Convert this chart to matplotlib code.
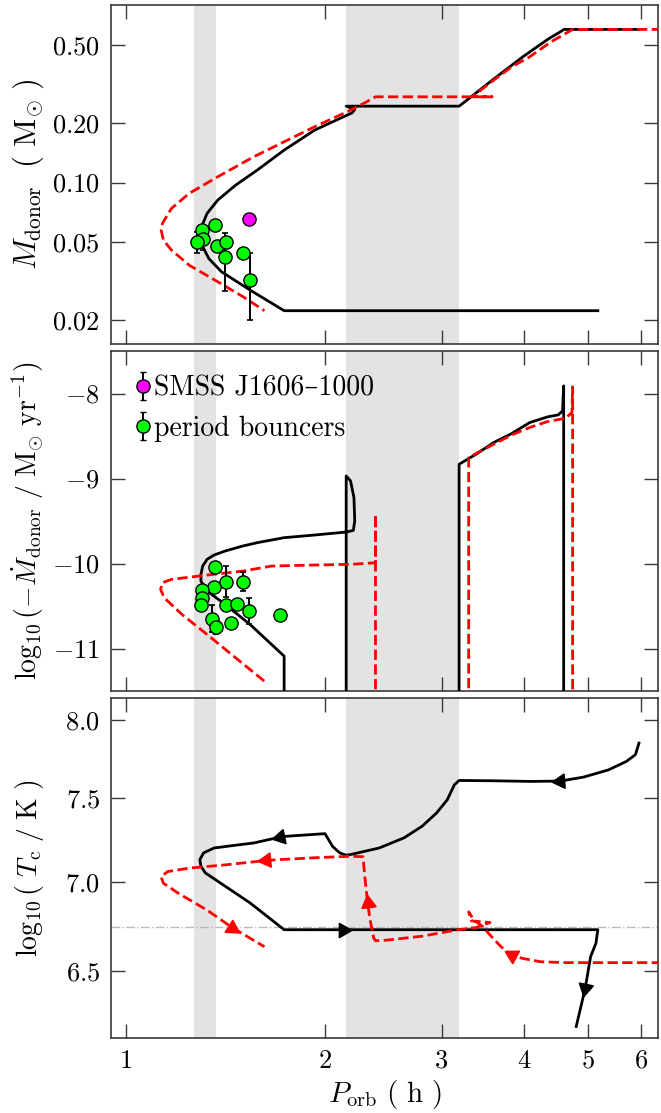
import numpy as np
import matplotlib.pyplot as plt
from matplotlib.ticker import FixedLocator, FixedFormatter, NullLocator

plt.rcParams['mathtext.fontset'] = 'cm'
plt.rcParams['font.family'] = ['cmr10', 'DejaVu Serif']
plt.rcParams['axes.unicode_minus'] = False
plt.rcParams['axes.formatter.use_mathtext'] = True

nan = np.nan

# shaded regions (period minimum spike, period gap)
spike_band = (1.268, 1.367)
gap_band = (2.15, 3.185)
tc_ref_line = 6.74

# --- donor mass tracks ---
black_mass_P = [5.96, 4.59, 4.56, 4.34, 3.98, 3.60, 3.19, 2.153, 2.218, 2.199, 1.929, 1.735,
                1.580, 1.466, 1.377, 1.327, 1.302, 1.299, 1.307, 1.335, 1.395, 1.541, 1.735, 5.167]
black_mass_M = [0.601, 0.601, 0.591, 0.535, 0.436, 0.337, 0.2447, 0.2447, 0.2355, 0.2265, 0.1848,
                0.1462, 0.1157, 0.0971, 0.0814, 0.0697, 0.0596, 0.0530, 0.0472, 0.0411, 0.0352,
                0.0284, 0.0223, 0.0223]
red_mass_P = [6.6, 4.733, 4.392, 4.076, 3.83, 3.597, 3.338, 3.575, 2.384, 2.312, 2.186, 1.929,
              1.735, 1.561, 1.377, 1.247, 1.172, 1.136, 1.131, 1.140, 1.172, 1.247, 1.377, 1.503, 1.620]
red_mass_M = [0.601, 0.601, 0.520, 0.436, 0.388, 0.332, 0.273, 0.273, 0.273, 0.2576, 0.2335,
              0.1922, 0.1612, 0.1353, 0.1070, 0.0881, 0.0738, 0.0620, 0.0573, 0.0510, 0.0454,
              0.0380, 0.0313, 0.0263, 0.0223]

# observed systems, top panel
bouncer_mass_P = [1.302, 1.307, 1.280, 1.364, 1.372, 1.416, 1.413, 1.505, 1.541]
bouncer_mass_M = [0.0573, 0.0514, 0.0500, 0.0608, 0.0475, 0.0500, 0.0419, 0.0437, 0.0319]
bouncer_mass_err = [0, 0.006, 0.006, 0, 0, 0, 0.0137, 0, 0.012]
smss_P = [1.536]
smss_M = [0.0650]

# --- mass transfer rate tracks ---
black_mdot_P = [4.588, 4.588, 4.571, 4.504, 4.338, 4.076, 3.83, 3.597, 3.381, 3.189, 3.189, nan,
                2.153, 2.153, 2.186, 2.212, 2.218, 2.207, 2.158, 1.929, 1.735, 1.580, 1.503,
                1.413, 1.360, 1.327, 1.307, 1.299, 1.299, 1.327, 1.413, 1.541, 1.735, 1.735]
black_mdot = [-12, -7.910, -8.204, -8.251, -8.275, -8.342, -8.471, -8.577, -8.715, -8.832, -12, nan,
              -12, -8.970, -9.029, -9.225, -9.500, -9.610, -9.629, -9.665, -9.696, -9.755, -9.794,
              -9.853, -9.900, -9.951, -10.030, -10.128, -10.207, -10.324, -10.481, -10.717, -11.090, -12]
red_mdot_P = [4.733, 4.733, 4.722, 4.617, 4.338, 4.076, 3.83, 3.597, 3.381, 3.297, 3.297, nan,
              2.384, 2.384, 2.384, 2.186, 1.929, 1.661, 1.503, 1.327, 1.172, 1.136, 1.129, 1.143,
              1.216, 1.327, 1.466, 1.620]
red_mdot = [-12, -7.921, -8.224, -8.291, -8.330, -8.400, -8.487, -8.597, -8.707, -8.754, -12, nan,
            -12, -9.421, -9.991, -10.010, -10.018, -10.030, -10.089, -10.136, -10.187, -10.226,
            -10.305, -10.403, -10.599, -10.835, -11.110, -11.385]

bouncer_mdot_P = [1.364, 1.416, 1.505, 1.361, 1.302, 1.302, 1.300, 1.416, 1.474, 1.537, 1.352,
                  1.369, 1.440, 1.713]
bouncer_mdot = [-10.038, -10.214, -10.214, -10.278, -10.313, -10.403, -10.490, -10.490, -10.473,
                -10.561, -10.650, -10.744, -10.697, -10.611]
bouncer_mdot_err = [0, 0.18, 0.11, 0, 0, 0, 0, 0, 0, 0.15, 0.16, 0.09, 0, 0]

# --- core temperature tracks ---
black_tc_P = [5.962, 5.888, 5.706, 5.362, 4.914, 4.53, 4.076, 3.597, 3.189, 3.137, 3.060, 2.947,
              2.804, 2.634, 2.415, 2.186, 2.153, 2.105, 2.053, 2.0, 1.746, 1.713, 1.561, 1.448,
              1.360, 1.311, 1.294, 1.299, 1.319, 1.413, 1.541, 1.735, 2.132, 5.167, 5.133, 5.039,
              4.945, 4.793]
black_tc = [7.851, 7.776, 7.733, 7.679, 7.633, 7.608, 7.606, 7.610, 7.612, 7.585, 7.491, 7.409,
            7.329, 7.259, 7.198, 7.159, 7.155, 7.169, 7.208, 7.284, 7.268, 7.264, 7.228, 7.212,
            7.198, 7.169, 7.129, 7.090, 7.051, 6.974, 6.878, 6.727, 6.727, 6.727, 6.652, 6.579,
            6.409, 6.209]
black_arrows = [5, 21, 32, 36]
red_tc_P = [6.6, 4.617, 4.231, 3.976, 3.83, 3.689, 3.552, 3.466, 3.360, 3.297, 3.330, 3.552,
            3.381, 3.177, 2.804, 2.475, 2.384, 2.370, 2.340, 2.320, 2.297, 2.283, 2.186, 1.929,
            1.703, 1.630, 1.413, 1.247, 1.157, 1.131, 1.140, 1.201, 1.327, 1.448, 1.620]
red_tc = [6.546, 6.546, 6.551, 6.569, 6.587, 6.633, 6.697, 6.743, 6.780, 6.827, 6.776, 6.767,
          6.739, 6.727, 6.691, 6.669, 6.666, 6.680, 6.780, 6.878, 7.028, 7.146, 7.149, 7.140,
          7.129, 7.124, 7.098, 7.079, 7.059, 7.028, 6.991, 6.933, 6.837, 6.739, 6.633]
red_arrows = [4, 19, 25, 33]

x_ticks = [1, 2, 3, 4, 5, 6]
mass_ticks = [0.02, 0.05, 0.10, 0.20, 0.50]
mdot_ticks = [-11, -10, -9, -8]
tc_ticks = [6.5, 7.0, 7.5, 8.0]

SPINE = '#3a3a3a'
GREEN = '#00ff00'
MAGENTA = '#ff00ff'

fig = plt.figure(figsize=(6.61, 11.13), dpi=100)
left, width = 111 / 661, 547 / 661
ax1 = fig.add_axes([left, 1 - 344 / 1113, width, 339 / 1113])
ax2 = fig.add_axes([left, 1 - 691 / 1113, width, 340 / 1113])
ax3 = fig.add_axes([left, 1 - 1038 / 1113, width, 340 / 1113])

for ax in (ax1, ax2, ax3):
    ax.set_xscale('log')
    ax.set_xlim(0.95, 6.37)
    ax.axvspan(*spike_band, color='#e3e3e3', lw=0, zorder=0)
    ax.axvspan(*gap_band, color='#e3e3e3', lw=0, zorder=0)
    ax.xaxis.set_major_locator(FixedLocator(x_ticks))
    ax.xaxis.set_major_formatter(FixedFormatter([f'${t}$' for t in x_ticks]))
    ax.xaxis.set_minor_locator(NullLocator())
    ax.tick_params(which='both', direction='in', top=True, right=True, length=10,
                   width=1, color=SPINE, labelsize=19, pad=8)
    for s in ax.spines.values():
        s.set_color(SPINE)
        s.set_linewidth(1.2)

lw = 2.0
# top panel
ax1.plot(black_mass_P, black_mass_M, color='black', lw=lw, zorder=3)
ax1.plot(red_mass_P, red_mass_M, color='red', ls='--', lw=lw, zorder=3)
bP = np.array(bouncer_mass_P)
bM = np.array(bouncer_mass_M)
bE = np.array(bouncer_mass_err)
m = bE > 0
ax1.errorbar(bP[m], bM[m], yerr=bE[m], fmt='none', ecolor='black', elinewidth=1.4,
             capsize=2, capthick=1.2, zorder=4)
ax1.plot(bP, bM, 'o', ms=9.5, mfc=GREEN, mec='black', mew=1, zorder=5)
ax1.plot(smss_P, smss_M, 'o', ms=9.5, mfc=MAGENTA, mec='black', mew=1, zorder=5)
ax1.set_yscale('log')
ax1.set_ylim(0.0151, 0.8)
ax1.yaxis.set_major_locator(FixedLocator(mass_ticks))
ax1.yaxis.set_major_formatter(FixedFormatter([f'${t:.2f}$' for t in mass_ticks]))
ax1.yaxis.set_minor_locator(NullLocator())
ax1.set_ylabel(r'$M_{\rm donor}\ \ (\ {\rm M}_{\odot}\ )$', fontsize=22)
ax1.tick_params(labelbottom=False)

# middle panel
ax2.plot(black_mdot_P, black_mdot, color='black', lw=lw, zorder=3)
ax2.plot(red_mdot_P, red_mdot, color='red', ls='--', lw=lw, zorder=3)
dP = np.array(bouncer_mdot_P)
dM = np.array(bouncer_mdot)
dE = np.array(bouncer_mdot_err)
m = dE > 0
ax2.errorbar(dP[m], dM[m], yerr=dE[m], fmt='none', ecolor='black', elinewidth=1.4,
             capsize=2, capthick=1.2, zorder=4)
ax2.plot(dP, dM, 'o', ms=9.5, mfc=GREEN, mec='black', mew=1, zorder=5)
h1 = ax2.errorbar([nan], [nan], yerr=[0.1], fmt='o', ms=9.5, mfc=MAGENTA, mec='black', mew=1,
                  ecolor='black', elinewidth=1.4, capsize=2, label='SMSS J1606–1000')
h2 = ax2.errorbar([nan], [nan], yerr=[0.1], fmt='o', ms=9.5, mfc=GREEN, mec='black', mew=1,
                  ecolor='black', elinewidth=1.4, capsize=2, label='period bouncers')
ax2.legend(handles=[h1, h2], loc='upper left', frameon=False, fontsize=20,
           handlelength=0.5, handletextpad=0.15, borderaxespad=0.5, labelspacing=0.5,
           borderpad=0.5, bbox_to_anchor=(-0.005, 1.011))
ax2.set_ylim(-11.5, -7.5)
ax2.yaxis.set_major_locator(FixedLocator(mdot_ticks))
ax2.yaxis.set_major_formatter(FixedFormatter([f'${t}$' for t in mdot_ticks]))
ax2.set_ylabel(r'$\log_{10}(-\dot{M}_{\rm donor}\ /\ {\rm M}_{\odot}\ {\rm yr}^{-1})$', fontsize=20)
ax2.tick_params(labelbottom=False)

# bottom panel
ax3.axhline(tc_ref_line, color='#bbbbbb', ls='-.', lw=1, zorder=1)
ax3.plot(black_tc_P, black_tc, color='black', lw=lw, zorder=3)
ax3.plot(red_tc_P, red_tc, color='red', ls='--', lw=lw, zorder=3)
ax3.set_yscale('log')
ax3.set_ylim(6.15, 8.15)
ax3.yaxis.set_major_locator(FixedLocator(tc_ticks))
ax3.yaxis.set_major_formatter(FixedFormatter([f'${t:.1f}$' for t in tc_ticks]))
ax3.yaxis.set_minor_locator(NullLocator())
ax3.set_ylabel(r'$\log_{10}(\ T_{\rm c}\ /\ {\rm K}\ )$', fontsize=20)
ax3.set_xlabel(r'$P_{\rm orb}\ (\ {\rm h}\ )$', fontsize=21, labelpad=4)

for ax in (ax1, ax2, ax3):
    ax.yaxis.set_label_coords(-0.118, 0.5)


def draw_arrows(ax, xs, ys, idx, color):
    for i in idx:
        p0 = ax.transData.transform((xs[i - 1], ys[i - 1]))
        p1 = ax.transData.transform((xs[i + 1], ys[i + 1]))
        ang = np.degrees(np.arctan2(p1[1] - p0[1], p1[0] - p0[0]))
        ax.plot(xs[i], ys[i], marker=(3, 0, ang - 90), ms=12, color=color, mec=color,
                ls='none', zorder=6)


draw_arrows(ax3, black_tc_P, black_tc, black_arrows, 'black')
draw_arrows(ax3, red_tc_P, red_tc, red_arrows, 'red')

fig.savefig('out.png', dpi=100)
